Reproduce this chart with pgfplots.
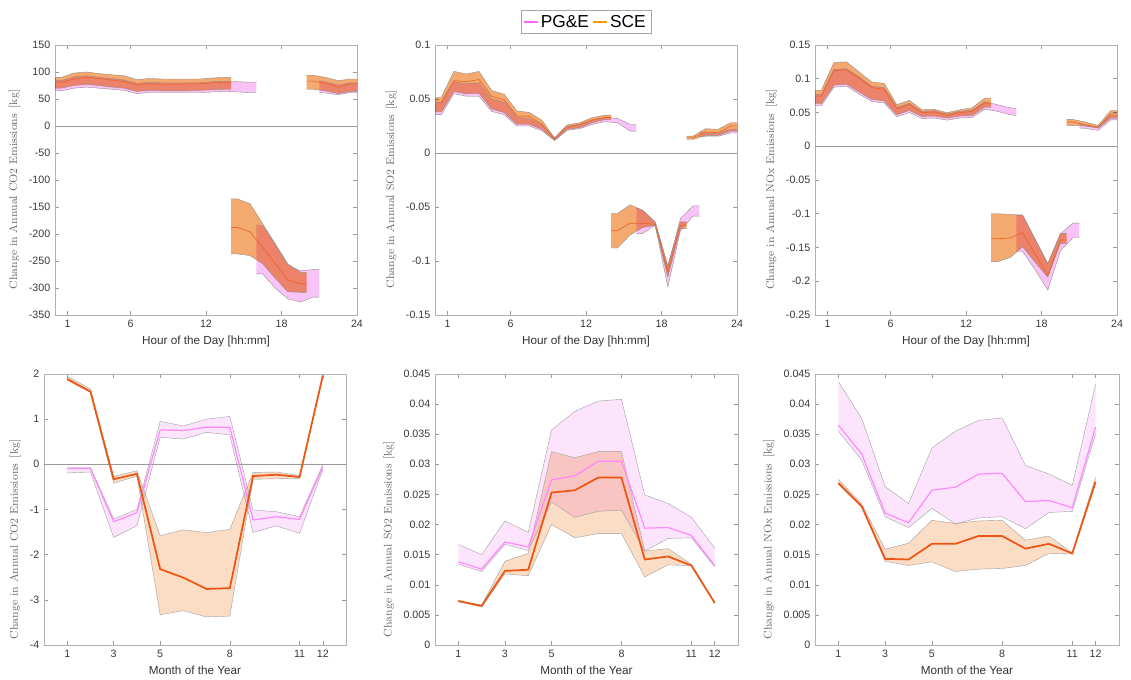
\documentclass[border=0pt]{standalone}
\usepackage{pgfplots}
\pgfplotsset{compat=1.18}
\usepackage{pgfplotstable}
\usepgfplotslibrary{fillbetween}
\usepackage{fontspec}
\newfontfamily\helv{Liberation Sans}

\definecolor{pinkT}{HTML}{F8C4F8}
\definecolor{orT}{HTML}{F4AA6E}
\definecolor{edgeT}{HTML}{9A8A8A}
\definecolor{lineT}{HTML}{E9652E}
\definecolor{pinkB}{HTML}{FCE5FC}
\definecolor{orB}{HTML}{FBDCC5}
\definecolor{edgeB}{HTML}{A0A0A0}
\definecolor{pgeL}{HTML}{FF88FF}
\definecolor{sceL}{HTML}{EE5512}
\definecolor{pgeLeg}{HTML}{FF66FF}
\definecolor{sceLeg}{HTML}{FF9900}

% ---------------- CO2 hourly ----------------
\pgfplotstableread{
x u m l
0 90 81 70
0.5 90 81 70
1.5 98 87 75
2.5 100 90 77
3.5 97 88 75
4.5 95 85 72
5.5 93 82 70
6.5 86 76 64
7.5 88 78 66
8.5 87 77 65
9.5 87 77 65
10.5 87 78 65
11.5 87 78 66
12.5 89 80 67
13.5 90 81 68
14 90 81 68
}\coSa
\pgfplotstableread{
x u l
0 84 65
0.5 84 65
1.5 91 70
2.5 93 72
3.5 90 70
4.5 88 68
5.5 85 66
6.5 79 60
7.5 81 62
8.5 80 62
9.5 80 62
10.5 80 62
11.5 80 62
12.5 82 63
13.5 83 64
14.5 82 63
15.5 81 62
16 81 62
}\coPa
\pgfplotstableread{
x u m l
14 -135 -188 -237
14.5 -135 -188 -237
15.5 -144 -196 -240
16.5 -181 -225 -255
17.5 -218 -255 -282
18.5 -255 -285 -307
19.5 -271 -292 -308
20 -271 -292 -308
}\coSb
\pgfplotstableread{
x u l
16 -183 -274
16.5 -185 -274
17.5 -220 -300
18.5 -258 -320
19.5 -268 -326
20.5 -266 -317
21 -266 -317
}\coPb
\pgfplotstableread{
x u m l
20 94 83 68
20.5 94 83 68
21.5 90 79 65
22.5 84 72 60
23.5 87 78 64
24 87 78 64
}\coSc
\pgfplotstableread{
x u l
21 84 62
21.5 82 61
22.5 76 58
23.5 80 62
24 80 62
}\coPc

% ---------------- SO2 hourly ----------------
\pgfplotstableread{
x u m l
0 0.0516 0.047 0.038
0.5 0.0516 0.047 0.038
1.5 0.0756 0.067 0.057
2.5 0.0731 0.066 0.0547
3.5 0.0756 0.068 0.0553
4.5 0.0578 0.0525 0.0406
5.5 0.0544 0.049 0.0375
6.5 0.039 0.0344 0.0266
7.5 0.0375 0.0338 0.0266
8.5 0.0303 0.0266 0.0219
9.5 0.014 0.0131 0.0119
10.5 0.026 0.0244 0.0219
11.5 0.028 0.0266 0.0234
12.5 0.0328 0.0306 0.028
13.5 0.035 0.0328 0.031
14 0.035 0.0328 0.031
}\soSa
\pgfplotstableread{
x u l
0 0.046 0.0355
0.5 0.046 0.0355
1.5 0.066 0.055
2.5 0.064 0.0525
3.5 0.065 0.0525
4.5 0.050 0.0385
5.5 0.047 0.0355
6.5 0.033 0.025
7.5 0.032 0.025
8.5 0.026 0.0205
9.5 0.0135 0.0115
10.5 0.0245 0.021
11.5 0.026 0.0225
12.5 0.030 0.0265
13.5 0.033 0.029
14.5 0.032 0.028
15.5 0.0266 0.0203
16 0.0266 0.0203
}\soPa
\pgfplotstableread{
x u m l
14 -0.056 -0.072 -0.088
14.5 -0.056 -0.072 -0.088
15.5 -0.048 -0.065 -0.076
16.5 -0.053 -0.065 -0.069
17.5 -0.064 -0.066 -0.067
18.5 -0.104 -0.110 -0.115
19.5 -0.0637 -0.067 -0.070
20 -0.0637 -0.067 -0.070
}\soSb
\pgfplotstableread{
x u l
16 -0.051 -0.0745
16.5 -0.053 -0.0745
17.5 -0.064 -0.067
18.5 -0.106 -0.124
19.5 -0.061 -0.072
20.5 -0.049 -0.0585
21 -0.049 -0.0585
}\soPb
\pgfplotstableread{
x u m l
20 0.0156 0.014 0.0125
20.5 0.0156 0.014 0.0125
21.5 0.0225 0.0194 0.0163
22.5 0.0219 0.0188 0.0163
23.5 0.028 0.025 0.0203
24 0.028 0.025 0.0203
}\soSc
\pgfplotstableread{
x u l
21 0.019 0.015
21.5 0.0185 0.0155
22.5 0.018 0.0155
23.5 0.022 0.0185
24 0.022 0.0185
}\soPc

% ---------------- NOx hourly ----------------
\pgfplotstableread{
x u m l
0 0.083 0.0745 0.063
0.5 0.083 0.0745 0.063
1.5 0.124 0.112 0.0904
2.5 0.125 0.113 0.092
3.5 0.110 0.101 0.0805
4.5 0.0954 0.087 0.0695
5.5 0.093 0.0845 0.067
6.5 0.0616 0.0556 0.0467
7.5 0.068 0.0616 0.053
8.5 0.054 0.0497 0.0442
9.5 0.0546 0.0507 0.0447
10.5 0.0497 0.0457 0.0417
11.5 0.054 0.0497 0.0447
12.5 0.057 0.0517 0.0457
13.5 0.0715 0.064 0.058
14 0.0715 0.064 0.058
}\noSa
\pgfplotstableread{
x u l
0 0.0765 0.060
0.5 0.0765 0.060
1.5 0.114 0.0874
2.5 0.115 0.089
3.5 0.103 0.0775
4.5 0.089 0.0665
5.5 0.0865 0.064
6.5 0.0576 0.0437
7.5 0.0636 0.050
8.5 0.0517 0.0412
9.5 0.0527 0.0417
10.5 0.0477 0.0387
11.5 0.0517 0.0417
12.5 0.0537 0.0427
13.5 0.066 0.055
14.5 0.0615 0.0517
15.5 0.057 0.0467
16 0.0556 0.0457
}\noPa
\pgfplotstableread{
x u m l
14 -0.100 -0.137 -0.171
14.5 -0.100 -0.137 -0.171
15.5 -0.101 -0.136 -0.165
16.5 -0.102 -0.128 -0.149
17.5 -0.138 -0.160 -0.172
18.5 -0.174 -0.191 -0.194
19.5 -0.129 -0.139 -0.144
20 -0.129 -0.139 -0.144
}\noSb
\pgfplotstableread{
x u l
16 -0.102 -0.156
16.5 -0.102 -0.156
17.5 -0.138 -0.183
18.5 -0.174 -0.213
19.5 -0.130 -0.155
20.5 -0.114 -0.1355
21 -0.114 -0.1355
}\noPb
\pgfplotstableread{
x u m l
20 0.0397 0.0358 0.031
20.5 0.0397 0.0358 0.031
21.5 0.0358 0.0318 0.0298
22.5 0.0308 0.0283 0.0268
23.5 0.053 0.048 0.0417
24 0.053 0.048 0.0417
}\noSc
\pgfplotstableread{
x u l
21 0.033 0.027
21.5 0.031 0.0265
22.5 0.028 0.0235
23.5 0.046 0.039
24 0.046 0.039
}\noPc

% ---------------- monthly ----------------
\pgfplotstableread{
x u m l
1 1.95 1.89 1.86
2 1.67 1.61 1.59
3 -0.27 -0.33 -0.42
4 -0.14 -0.21 -0.26
5 -1.58 -2.32 -3.33
6 -1.45 -2.51 -3.24
7 -1.51 -2.76 -3.38
8 -1.44 -2.74 -3.36
9 -0.18 -0.26 -0.33
10 -0.17 -0.23 -0.32
11 -0.25 -0.28 -0.31
12 1.98 1.96 1.93
}\mcoS
\pgfplotstableread{
x u m l
1 -0.07 -0.09 -0.19
2 -0.07 -0.09 -0.17
3 -1.21 -1.27 -1.62
4 -1.00 -1.07 -1.36
5 0.95 0.76 0.60
6 0.85 0.75 0.56
7 1.00 0.82 0.71
8 1.06 0.82 0.65
9 -1.01 -1.23 -1.51
10 -1.05 -1.16 -1.36
11 -1.16 -1.22 -1.53
12 -0.01 -0.06 -0.12
}\mcoP
\pgfplotstableread{
x u m l
1 0.0074 0.0073 0.0072
2 0.0066 0.0065 0.0063
3 0.0139 0.0123 0.0118
4 0.0152 0.0125 0.0115
5 0.0321 0.0253 0.0200
6 0.0311 0.0257 0.0178
7 0.0321 0.0278 0.0185
8 0.0321 0.0278 0.0185
9 0.0156 0.0142 0.0113
10 0.0160 0.0147 0.0133
11 0.0134 0.0132 0.0132
12 0.0071 0.0070 0.0069
}\msoS
\pgfplotstableread{
x u m l
1 0.0167 0.0138 0.0134
2 0.0150 0.0126 0.0122
3 0.0206 0.0171 0.0167
4 0.0187 0.0163 0.0157
5 0.0357 0.0274 0.0238
6 0.0388 0.0281 0.0212
7 0.0405 0.0305 0.0222
8 0.0408 0.0305 0.0224
9 0.0249 0.0194 0.0156
10 0.0235 0.0195 0.0177
11 0.0212 0.0182 0.0178
12 0.0161 0.0132 0.0130
}\msoP
\pgfplotstableread{
x u m l
1 0.0275 0.0269 0.0267
2 0.0234 0.0230 0.0229
3 0.0159 0.0143 0.0139
4 0.0169 0.0142 0.0132
5 0.0207 0.0168 0.0138
6 0.0202 0.0168 0.0122
7 0.0206 0.0181 0.0126
8 0.0207 0.0181 0.0127
9 0.0174 0.0160 0.0132
10 0.0181 0.0168 0.0152
11 0.0153 0.0152 0.0151
12 0.0279 0.0271 0.0270
}\mnoS
\pgfplotstableread{
x u m l
1 0.0437 0.0365 0.0355
2 0.0376 0.0317 0.0307
3 0.0263 0.0219 0.0213
4 0.0235 0.0203 0.0195
5 0.0327 0.0257 0.0227
6 0.0355 0.0262 0.0201
7 0.0373 0.0284 0.0211
8 0.0377 0.0285 0.0213
9 0.0298 0.0238 0.0193
10 0.0284 0.0240 0.0220
11 0.0265 0.0228 0.0222
12 0.0433 0.0362 0.0351
}\mnoP

\newcommand{\band}[4]{%
  \addplot[name path=#1u, draw=#4, line width=0.3pt, forget plot] table[x=x,y=u]{#2};
  \addplot[name path=#1l, draw=#4, line width=0.3pt, forget plot] table[x=x,y=l]{#2};
  \addplot[fill=#3, draw=none, blend mode=multiply, forget plot] fill between[of=#1u and #1l];
}

\pgfplotsset{
  base/.style={
    scale only axis, anchor=south west,
    axis line style={draw=black!30, line width=0.5pt},
    every tick/.style={draw=black!40, line width=0.4pt},
    major tick length=3pt,
    tick align=inside,
    scaled ticks=false,
    ticklabel style={font=\helv\fontsize{8}{9}\selectfont, text=black!78},
    xlabel style={font=\helv\fontsize{8.8}{10}\selectfont, text=black!80},
    ylabel style={font=\fontsize{8.3}{10}\selectfont, text=black!60},
  },
  toprow/.style={base, width=226.5pt, height=202.5pt, xmin=0, xmax=24,
    xtick={1,6,12,18,24}, xticklabels={1,6,12,18,24},
    xlabel={Hour of the Day [hh:mm]},
    ylabel style={at={(ticklabel cs:0.465)}}},
  botrow/.style={base, height=203.25pt, xmin=0, xmax=13,
    xtick={1,3,5,8,11,12}, xticklabels={1,3,5,8,11,12},
    xlabel={Month of the Year},
    ylabel style={at={(ticklabel cs:0.39)}}},
}

\begin{document}
\begin{tikzpicture}
\path (0,0) rectangle (848.25pt,507.75pt);

% ===== top-left CO2 =====
\begin{axis}[toprow, at={(41.25pt,271.5pt)},
  ymin=-350, ymax=150,
  ytick={-350,-300,-250,-200,-150,-100,-50,0,50,100,150},
  yticklabels={-350,-300,-250,-200,-150,-100,-50,0,50,100,150},
  ylabel={Change in Annual CO2 Emissions\enspace[kg]}]
\addplot[black!40, line width=0.5pt, forget plot] coordinates {(0,0) (24,0)};
\band{ca}{\coPa}{pinkT}{edgeT}
\band{cb}{\coPb}{pinkT}{edgeT}
\band{cc}{\coPc}{pinkT}{edgeT}
\band{cd}{\coSa}{orT}{edgeT}
\band{ce}{\coSb}{orT}{edgeT}
\band{cf}{\coSc}{orT}{edgeT}
\addplot[lineT, line width=0.5pt, forget plot] table[x=x,y=m]{\coSa};
\addplot[lineT, line width=0.5pt, forget plot] table[x=x,y=m]{\coSb};
\addplot[lineT, line width=0.5pt, forget plot] table[x=x,y=m]{\coSc};
\end{axis}

% ===== top-middle SO2 =====
\begin{axis}[toprow, at={(326.25pt,271.5pt)},
  ymin=-0.15, ymax=0.1,
  ytick={-0.15,-0.1,-0.05,0,0.05,0.1},
  yticklabels={-0.15,-0.1,-0.05,0,0.05,0.1},
  ylabel={Change in Annual SO2 Emissions\enspace[kg]},
  legend columns=2,
  legend style={at={(0.5,1)}, anchor=south, yshift=8.25pt, draw=black!35, fill=white,
    font=\helv\fontsize{13}{14}\selectfont, inner xsep=2pt, inner ysep=1.5pt,
    /tikz/every even column/.append style={column sep=1pt}},
  legend image code/.code={\draw[#1] (0pt,0pt) -- (10pt,0pt);}]
\addplot[black!40, line width=0.5pt, forget plot] coordinates {(0,0) (24,0)};
\band{sa}{\soPa}{pinkT}{edgeT}
\band{sb}{\soPb}{pinkT}{edgeT}
\band{sc}{\soPc}{pinkT}{edgeT}
\band{sd}{\soSa}{orT}{edgeT}
\band{se}{\soSb}{orT}{edgeT}
\band{sf}{\soSc}{orT}{edgeT}
\addplot[lineT, line width=0.5pt, forget plot] table[x=x,y=m]{\soSa};
\addplot[lineT, line width=0.5pt, forget plot] table[x=x,y=m]{\soSb};
\addplot[lineT, line width=0.5pt, forget plot] table[x=x,y=m]{\soSc};
\addlegendimage{pgeLeg, line width=0.8pt}
\addlegendentry{PG\&E}
\addlegendimage{sceLeg, line width=0.8pt}
\addlegendentry{SCE}
\end{axis}

% ===== top-right NOx =====
\begin{axis}[toprow, at={(611.25pt,271.5pt)},
  ymin=-0.25, ymax=0.15,
  ytick={-0.25,-0.2,-0.15,-0.1,-0.05,0,0.05,0.1,0.15},
  yticklabels={-0.25,-0.2,-0.15,-0.1,-0.05,0,0.05,0.1,0.15},
  ylabel={Change in Annual NOx Emissions\enspace[kg]}]
\addplot[black!40, line width=0.5pt, forget plot] coordinates {(0,0) (24,0)};
\band{na}{\noPa}{pinkT}{edgeT}
\band{nb}{\noPb}{pinkT}{edgeT}
\band{nc}{\noPc}{pinkT}{edgeT}
\band{nd}{\noSa}{orT}{edgeT}
\band{ne}{\noSb}{orT}{edgeT}
\band{nf}{\noSc}{orT}{edgeT}
\addplot[lineT, line width=0.5pt, forget plot] table[x=x,y=m]{\noSa};
\addplot[lineT, line width=0.5pt, forget plot] table[x=x,y=m]{\noSb};
\addplot[lineT, line width=0.5pt, forget plot] table[x=x,y=m]{\noSc};
\end{axis}

% ===== bottom-left CO2 =====
\begin{axis}[botrow, at={(33pt,24pt)}, width=226.5pt,
  ymin=-4, ymax=2,
  ytick={-4,-3,-2,-1,0,1,2},
  yticklabels={-4,-3,-2,-1,0,1,2},
  ylabel={Change in Annual CO2 Emissions\enspace[kg]}]
\addplot[black!40, line width=0.5pt, forget plot] coordinates {(0,0) (13,0)};
\band{ma}{\mcoP}{pinkB}{edgeB}
\band{mb}{\mcoS}{orB}{edgeB}
\addplot[pgeL, line width=0.9pt, forget plot] table[x=x,y=m]{\mcoP};
\addplot[sceL, line width=1.3pt, forget plot] table[x=x,y=m]{\mcoS};
\end{axis}

% ===== bottom-middle SO2 =====
\begin{axis}[botrow, at={(326.25pt,24pt)}, width=227.25pt,
  ymin=0, ymax=0.045,
  ytick={0,0.005,0.01,0.015,0.02,0.025,0.03,0.035,0.04,0.045},
  yticklabels={0,0.005,0.01,0.015,0.02,0.025,0.03,0.035,0.04,0.045},
  ylabel={Change in Annual SO2 Emissions [kg]}]
\band{mc}{\msoP}{pinkB}{edgeB}
\band{md}{\msoS}{orB}{edgeB}
\addplot[pgeL, line width=0.9pt, forget plot] table[x=x,y=m]{\msoP};
\addplot[sceL, line width=1.3pt, forget plot] table[x=x,y=m]{\msoS};
\end{axis}

% ===== bottom-right NOx =====
\begin{axis}[botrow, at={(611.25pt,24pt)}, width=228pt,
  ymin=0, ymax=0.045,
  ytick={0,0.005,0.01,0.015,0.02,0.025,0.03,0.035,0.04,0.045},
  yticklabels={0,0.005,0.01,0.015,0.02,0.025,0.03,0.035,0.04,0.045},
  ylabel={Change in Annual NOx Emissions\enspace[kg]}]
\band{me}{\mnoP}{pinkB}{edgeB}
\band{mf}{\mnoS}{orB}{edgeB}
\addplot[pgeL, line width=0.9pt, forget plot] table[x=x,y=m]{\mnoP};
\addplot[sceL, line width=1.3pt, forget plot] table[x=x,y=m]{\mnoS};
\end{axis}
\end{tikzpicture}
\end{document}
